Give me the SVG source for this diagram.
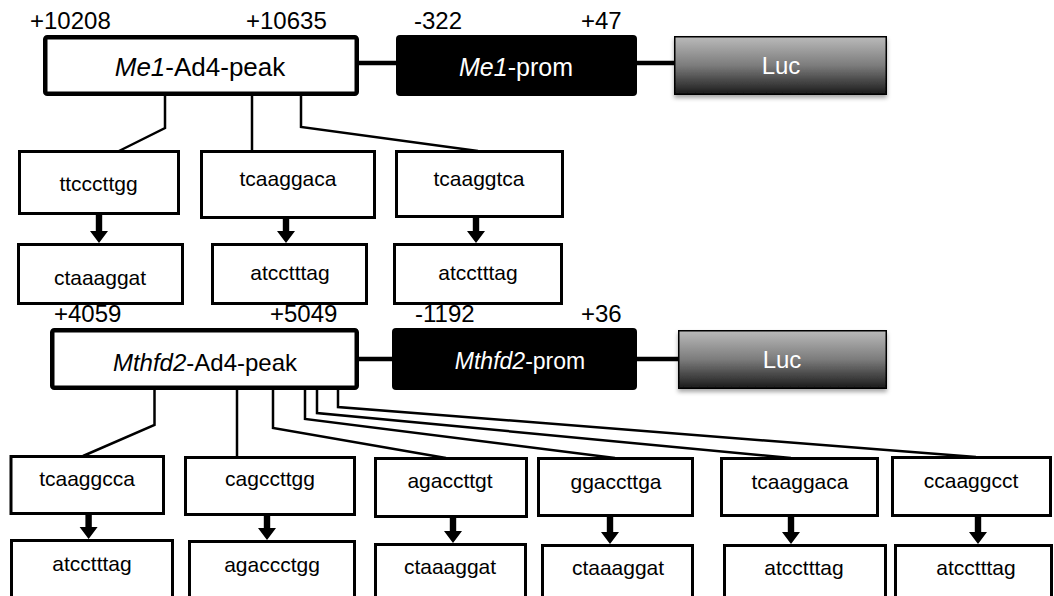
<svg xmlns="http://www.w3.org/2000/svg" width="1054" height="596" viewBox="0 0 1054 596">
<defs>
<linearGradient id="lucg" x1="0" y1="0" x2="0" y2="1">
<stop offset="0" stop-color="#bababa"/>
<stop offset="0.5" stop-color="#7c7c7c"/>
<stop offset="1" stop-color="#1a1a1a"/>
</linearGradient>
<filter id="sh" x="-10%" y="-20%" width="120%" height="150%">
<feDropShadow dx="0" dy="3" stdDeviation="2" flood-color="#000" flood-opacity="0.35"/>
</filter>
<path id="arr" d="M-3.2,0 H3.2 V-11 H9 L0,0 L-9,-11 H-3.2 Z" transform="scale(1,-1)"/>
</defs>
<style>
text{font-family:"Liberation Sans",Arial,sans-serif;fill:#000}
.lbl{font-size:24px}
.big{font-size:26px;text-anchor:middle}
.wt{fill:#fff;text-anchor:middle}
.sm{font-size:21px;text-anchor:middle}
.peak{fill:#fff;stroke:#000;stroke-width:4.5}
.prom{fill:#000}
.luc{fill:url(#lucg);stroke:#000;stroke-width:1.5;filter:url(#sh)}
.box{fill:#fff;stroke:#000;stroke-width:3}
.con{fill:none;stroke:#000;stroke-width:2.5}
.thick{fill:none;stroke:#000;stroke-width:4.5}
.ar{fill:#000}
</style>

<g id="labels">
<text class="lbl" x="30" y="29">+10208</text>
<text class="lbl" x="246" y="29">+10635</text>
<text class="lbl" x="414" y="29">-322</text>
<text class="lbl" x="581" y="29">+47</text>
<text class="lbl" x="54" y="322">+4059</text>
<text class="lbl" x="270" y="322">+5049</text>
<text class="lbl" x="415" y="322">-1192</text>
<text class="lbl" x="581" y="322">+36</text>
</g>

<g id="connectors">
<line class="thick" x1="357" y1="63" x2="397" y2="63"/>
<line class="thick" x1="636" y1="63" x2="675" y2="63"/>
<line class="thick" x1="357" y1="359" x2="393" y2="359"/>
<line class="thick" x1="636" y1="359" x2="679" y2="359"/>
<path class="con" d="M165,96 V128 L119,151"/>
<path class="con" d="M252,96 V151"/>
<path class="con" d="M301,96 V127 L478,151"/>
<path class="con" d="M154.5,390 V425 L83,456"/>
<path class="con" d="M237,390 V457"/>
<path class="con" d="M273,390 V428 L446,458"/>
<path class="con" d="M305,390 V419 L615,458"/>
<path class="con" d="M317,390 V413 L791,458"/>
<path class="con" d="M338,390 V407 L976,457"/>
<g class="ar">
<path d="M95.8,214 H102.2 V231 H108 L99,243 L90,231 H95.8 Z"/>
<path d="M282.8,218 H289.2 V231 H295 L286,243 L277,231 H282.8 Z"/>
<path d="M472.8,217 H479.2 V231 H485 L476,243 L467,231 H472.8 Z"/>
<path d="M85.4,514 H91.8 V527 H97.6 L88.6,539 L79.6,527 H85.4 Z"/>
<path d="M263.8,515 H270.2 V528 H276 L267,540 L258,528 H263.8 Z"/>
<path d="M449.8,517 H456.2 V531 H462 L453,543 L444,531 H449.8 Z"/>
<path d="M606.8,516 H613.2 V532 H619 L610,544 L601,532 H606.8 Z"/>
<path d="M787.8,516 H794.2 V532 H800 L791,544 L782,532 H787.8 Z"/>
<path d="M974.8,516 H981.2 V532 H987 L978,544 L969,532 H974.8 Z"/>
</g>
</g>

<g id="me1-peak">
<rect class="peak" x="45.25" y="37.25" width="311.5" height="56.5" rx="2"/>
<text class="big" x="200" y="76"><tspan font-style="italic">Me1</tspan>-Ad4-peak</text>
</g>
<g id="me1-prom">
<rect class="prom" x="396" y="35" width="241" height="61" rx="4"/>
<text class="wt" font-size="25" x="516" y="76"><tspan font-style="italic">Me1</tspan>-prom</text>
</g>
<g id="me1-luc">
<rect class="luc" x="674.75" y="36.75" width="211.5" height="57.5"/>
<text class="wt" font-size="24" x="781" y="74">Luc</text>
</g>

<g id="b1"><rect class="box" x="19.5" y="151.5" width="159" height="62"/><text class="sm" x="98.5" y="191">ttcccttgg</text></g>
<g id="b2"><rect class="box" x="201.5" y="151.5" width="173" height="66"/><text class="sm" x="288" y="186">tcaaggaca</text></g>
<g id="b3"><rect class="box" x="396.5" y="151.5" width="166" height="65"/><text class="sm" x="479" y="186">tcaaggtca</text></g>
<g id="c1"><rect class="box" x="18.5" y="244.5" width="164" height="59"/><text class="sm" x="100" y="285">ctaaaggat</text></g>
<g id="c2"><rect class="box" x="212.5" y="244.5" width="154" height="59"/><text class="sm" x="290" y="280">atcctttag</text></g>
<g id="c3"><rect class="box" x="394.5" y="244.5" width="167" height="59"/><text class="sm" x="478" y="280">atcctttag</text></g>

<g id="mthfd2-peak">
<rect class="peak" x="52.25" y="330.25" width="304.5" height="57.5" rx="2"/>
<text class="big" font-size="24" style="font-size:24px" x="205" y="371"><tspan font-style="italic">Mthfd2</tspan>-Ad4-peak</text>
</g>
<g id="mthfd2-prom">
<rect class="prom" x="392" y="328" width="245" height="62" rx="4"/>
<text class="wt" font-size="23" x="520" y="369"><tspan font-style="italic">Mthfd2</tspan>-prom</text>
</g>
<g id="mthfd2-luc">
<rect class="luc" x="678.75" y="330.75" width="207.5" height="57.5"/>
<text class="wt" font-size="24" x="782" y="368">Luc</text>
</g>

<g id="d1"><rect class="box" x="11" y="456.5" width="152.5" height="57"/><text class="sm" x="87" y="486">tcaaggcca</text></g>
<g id="d2"><rect class="box" x="185.5" y="457.5" width="169" height="57"/><text class="sm" x="270" y="486">cagccttgg</text></g>
<g id="d3"><rect class="box" x="375.5" y="458.5" width="151" height="58"/><text class="sm" x="450" y="488">agaccttgt</text></g>
<g id="d4"><rect class="box" x="538.5" y="458.5" width="154" height="57"/><text class="sm" x="616" y="489">ggaccttga</text></g>
<g id="d5"><rect class="box" x="721.5" y="458.5" width="156" height="57"/><text class="sm" x="800" y="489">tcaaggaca</text></g>
<g id="d6"><rect class="box" x="892.5" y="457.5" width="158" height="58"/><text class="sm" x="971" y="488">ccaaggcct</text></g>

<g id="e1"><rect class="box" x="11.5" y="540.5" width="161" height="70"/><text class="sm" x="92" y="571">atcctttag</text></g>
<g id="e2"><rect class="box" x="189.5" y="541.5" width="165" height="70"/><text class="sm" x="272" y="572">agaccctgg</text></g>
<g id="e3"><rect class="box" x="375.5" y="544.5" width="150" height="70"/><text class="sm" x="450" y="574">ctaaaggat</text></g>
<g id="e4"><rect class="box" x="542.5" y="545.5" width="150" height="70"/><text class="sm" x="618" y="575">ctaaaggat</text></g>
<g id="e5"><rect class="box" x="724.5" y="545.5" width="161" height="70"/><text class="sm" x="804" y="575">atcctttag</text></g>
<g id="e6"><rect class="box" x="895.5" y="545.5" width="156" height="70"/><text class="sm" x="976" y="575">atcctttag</text></g>
</svg>
